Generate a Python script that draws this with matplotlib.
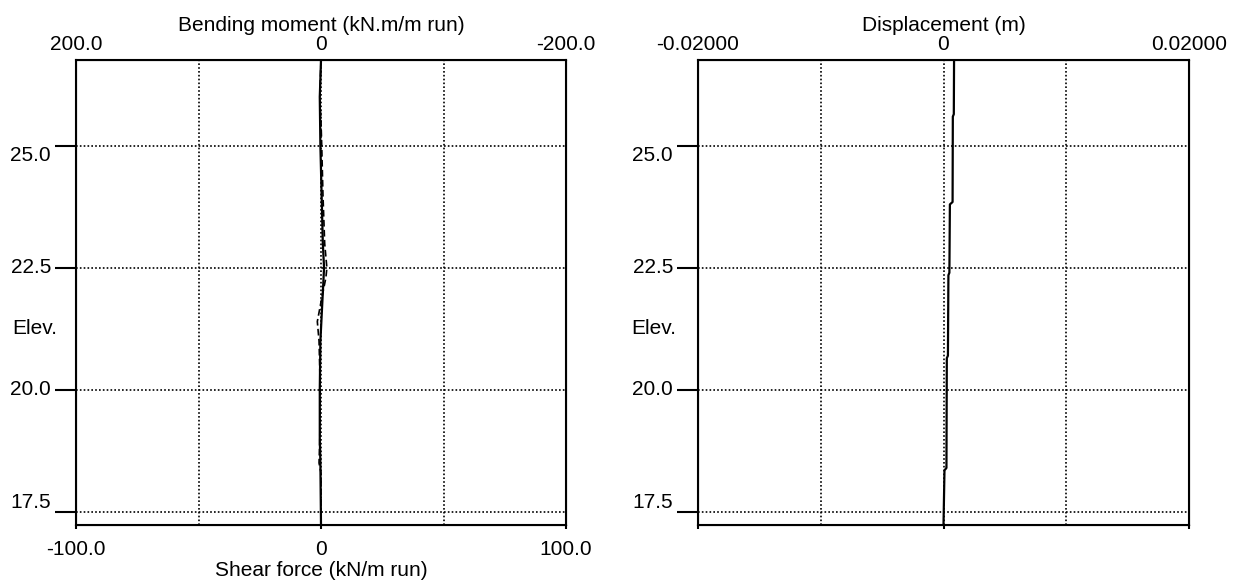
import numpy as np
import matplotlib.pyplot as plt

plt.rcParams['font.family'] = ['Liberation Sans Narrow', 'Liberation Sans', 'DejaVu Sans']
plt.rcParams['font.size'] = 15

# shear force and bending moment along the wall (elevation in m)
elev_v = [26.76, 26.3, 26.0, 25.5, 25.0, 24.0, 23.0, 22.5, 22.3, 21.8, 21.4, 21.0, 20.0, 19.0, 18.5, 18.3, 17.23]
shear = [0.0, -0.3, -0.5, 0.0, 0.3, 0.8, 1.5, 2.4, 2.0, 0.0, -1.5, -0.8, -0.3, -0.5, -0.8, 0.0, 0.0]

elev_m = [26.76, 26.0, 25.0, 24.0, 23.0, 22.5, 22.0, 21.0, 20.0, 19.0, 18.5, 17.23]
moment = [0.0, 1.0, 0.5, -0.5, -1.5, -2.5, -1.5, 0.5, 1.0, 1.0, 0.5, 0.0]

# displacement profile
elev_d = [26.76, 25.65, 25.6, 23.85, 23.8, 22.4, 22.35, 20.7, 20.65, 18.4, 18.35, 17.23]
disp = [0.00086, 0.00084, 0.00076, 0.00074, 0.00052, 0.00048, 0.00040, 0.00036, 0.00027, 0.00024, 0.00008, 0.00000]

elev_ticks = [17.5, 20.0, 22.5, 25.0]
elev_labels = ['17.5', '20.0', '22.5', '25.0']
elev_va = ['bottom', 'center', 'center', 'top']
ylim = (17.23, 26.76)

W, H = 1243, 585
fig = plt.figure(figsize=(W / 100, H / 100), dpi=100)

dot = (0, (1, 1.3))


def setup(ax, xlim):
    ax.set_xlim(*xlim)
    ax.set_ylim(*ylim)
    for s in ax.spines.values():
        s.set_linewidth(1.5)
    ax.set_yticks(elev_ticks)
    ax.set_yticklabels(elev_labels)
    for lab, va in zip(ax.get_yticklabels(), elev_va):
        lab.set_va(va)
    ax.tick_params(axis='y', length=15, width=1.5, direction='out', pad=3)
    ax.yaxis.grid(True, color='black', linestyle=dot, linewidth=1.2)
    ax.xaxis.grid(True, which='both', color='black', linestyle=dot, linewidth=1.2)
    ax.set_axisbelow(True)


# ---- left panel: shear force (bottom) / bending moment (top)
ax1 = fig.add_axes([76 / W, 1 - 525 / H, 490 / W, 465 / H])
setup(ax1, (-100, 100))
ax1.set_xticks([-100, 0, 100])
ax1.set_xticklabels(['-100.0', '0', '100.0'])
ax1.set_xticks([-50, 50], minor=True)
ax1.tick_params(axis='x', which='major', length=3, width=1.5, pad=8)
ax1.tick_params(axis='x', which='minor', length=0)
ax1.set_xlabel('Shear force (kN/m run)', labelpad=1)
ax1.plot(shear, elev_v, color='black', lw=1.2, ls=(0, (4, 2)))

ax1t = ax1.twiny()
ax1t.set_xlim(200, -200)
ax1t.set_xticks([200, 0, -200])
ax1t.set_xticklabels(['200.0', '0', '-200.0'])
ax1t.tick_params(axis='x', length=0, pad=4)
ax1t.set_xlabel('Bending moment (kN.m/m run)', labelpad=3)
ax1t.plot(moment, elev_m, color='black', lw=1.6)

# ---- right panel: displacement
ax2 = fig.add_axes([698 / W, 1 - 525 / H, 491 / W, 465 / H])
setup(ax2, (-0.02, 0.02))
ax2.set_xticks([-0.02, 0, 0.02])
ax2.set_xticklabels([])
ax2.set_xticks([-0.01, 0.01], minor=True)
ax2.tick_params(axis='x', which='major', length=3, width=1.5)
ax2.tick_params(axis='x', which='minor', length=0)

ax2t = ax2.twiny()
ax2t.set_xlim(-0.02, 0.02)
ax2t.set_xticks([-0.02, 0, 0.02])
ax2t.set_xticklabels(['-0.02000', '0', '0.02000'])
ax2t.tick_params(axis='x', length=0, pad=4)
ax2t.set_xlabel('Displacement (m)', labelpad=3)
ax2t.plot(disp, elev_d, color='black', lw=1.6)

fig.text(35 / W, 1 - 328 / H, 'Elev.', ha='center', va='center')
fig.text(654 / W, 1 - 328 / H, 'Elev.', ha='center', va='center')

fig.savefig('out.png', dpi=100)
